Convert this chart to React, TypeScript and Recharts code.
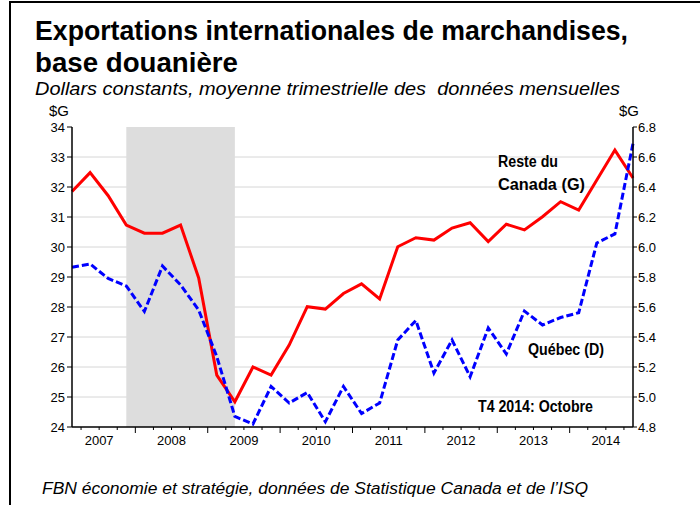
import React from 'react';
import { LineChart, Line, XAxis, YAxis, CartesianGrid, ReferenceArea } from 'recharts';

const quarters = [
  '2007T1', '2007T2', '2007T3', '2007T4',
  '2008T1', '2008T2', '2008T3', '2008T4',
  '2009T1', '2009T2', '2009T3', '2009T4',
  '2010T1', '2010T2', '2010T3', '2010T4',
  '2011T1', '2011T2', '2011T3', '2011T4',
  '2012T1', '2012T2', '2012T3', '2012T4',
  '2013T1', '2013T2', '2013T3', '2013T4',
  '2014T1', '2014T2', '2014T3', '2014T4',
];
const years = ['2007', '2008', '2009', '2010', '2011', '2012', '2013', '2014'];

// Reste du Canada, $G (left axis)
const resteDuCanada = [
  31.85, 32.48, 31.71, 30.73, 30.46, 30.46, 30.73, 28.97,
  25.73, 24.84, 26.0, 25.73, 26.73, 28.01, 27.93, 28.45,
  28.77, 28.27, 30.01, 30.31, 30.23, 30.63, 30.81, 30.18,
  30.76, 30.57, 31.01, 31.51, 31.23, 32.23, 33.23, 32.3,
];
// Québec, $G (right axis)
const quebec = [
  5.865, 5.887, 5.79, 5.74, 5.57, 5.873, 5.747, 5.58,
  5.27, 4.87, 4.82, 5.07, 4.96, 5.03, 4.835, 5.07,
  4.89, 4.96, 5.38, 5.51, 5.16, 5.38, 5.135, 5.46,
  5.287, 5.573, 5.48, 5.53, 5.562, 6.027, 6.087, 6.69,
];

const leftTicks = [24, 25, 26, 27, 28, 29, 30, 31, 32, 33, 34];
const leftGrid = [25, 26, 27, 28, 29, 30, 31, 32, 33];
const rightTicks = [4.8, 5.0, 5.2, 5.4, 5.6, 5.8, 6.0, 6.2, 6.4, 6.6, 6.8];
const recessionStart = 3;
const recessionEnd = 9;

const data = quarters.map((q, i) => ({ idx: i, q, rdc: resteDuCanada[i], qc: quebec[i] }));
const xTicks = quarters.slice(0, -1).map((_, i) => i + 0.5);

const FONT = 'Liberation Sans, Arial, Helvetica, sans-serif';

const XTick = (props: any) => {
  const { x, y, payload } = props;
  const v = payload.value as number;
  const isYearBoundary = (((v - 3.5) % 4) + 4) % 4 === 0;
  const li = (v - 1.5) / 4;
  const isLabel = Number.isInteger(li) && li >= 0 && li < years.length;
  return (
    <g>
      <line x1={x} x2={x} y1={y} y2={y + (isYearBoundary ? 6 : 3)} stroke="#000" strokeWidth={1} />
      {isLabel && (
        <text x={x} y={y + 18} textAnchor="middle" fontSize={13} fill="#000" fontFamily={FONT}>
          {years[li]}
        </text>
      )}
    </g>
  );
};

export default function App() {
  return (
    <div style={{ position: 'absolute', left: 0, top: 0, width: 700, height: 505, background: '#fff', overflow: 'hidden', fontFamily: FONT }}>
      <div style={{ position: 'absolute', left: 0, top: 0 }}>
        <LineChart width={700} height={505} data={data} margin={{ top: 127, right: 27, bottom: 48, left: 32 }}>
          <CartesianGrid yAxisId="left" vertical={false} horizontalValues={leftGrid} stroke="#d6d6d6" strokeWidth={1} />
          <ReferenceArea yAxisId="left" x1={recessionStart} x2={recessionEnd} y1={24} y2={34} fill="#dddddd" fillOpacity={1} stroke="none" ifOverflow="visible" />
          <XAxis
            dataKey="idx"
            type="number"
            domain={[0, 31]}
            ticks={xTicks}
            interval={0}
            tick={<XTick />}
            tickSize={0}
            tickMargin={0}
            tickLine={false}
            axisLine={{ stroke: '#000', strokeWidth: 1.5 }}
            height={30}
            allowDecimals
          />
          <YAxis
            yAxisId="left"
            domain={[24, 34]}
            ticks={leftTicks}
            interval={0}
            width={40}
            tickSize={5}
            tickMargin={2}
            axisLine={{ stroke: '#000', strokeWidth: 1.5 }}
            tickLine={{ stroke: '#000' }}
            tick={{ fill: '#000', fontSize: 13, fontFamily: FONT }}
          />
          <YAxis
            yAxisId="right"
            orientation="right"
            domain={[4.8, 6.8]}
            ticks={rightTicks}
            interval={0}
            width={40}
            tickSize={4}
            tickMargin={1}
            axisLine={{ stroke: '#000', strokeWidth: 1.5 }}
            tickLine={{ stroke: '#000' }}
            tick={{ fill: '#000', fontSize: 13, fontFamily: FONT }}
            tickFormatter={(v: number) => v.toFixed(1)}
          />
          <Line yAxisId="left" type="linear" dataKey="rdc" stroke="#ff0000" strokeWidth={3} dot={false} activeDot={false} isAnimationActive={false} />
          <Line yAxisId="right" type="linear" dataKey="qc" stroke="#0000ff" strokeWidth={3} strokeDasharray="7 3" dot={false} activeDot={false} isAnimationActive={false} />
        </LineChart>
      </div>
      <svg width={700} height={505} style={{ position: 'absolute', left: 0, top: 0, pointerEvents: 'none' }} fontFamily={FONT}>
        <line x1={10} y1={2} x2={700} y2={2} stroke="#000" strokeWidth={2} />
        <line x1={10} y1={1} x2={10} y2={505} stroke="#000" strokeWidth={2} />
        <text x={35} y={40} fontSize={27} fontWeight="bold" fill="#000" textLength={593} lengthAdjust="spacingAndGlyphs">
          Exportations internationales de marchandises,
        </text>
        <text x={35} y={72} fontSize={27} fontWeight="bold" fill="#000" textLength={203} lengthAdjust="spacingAndGlyphs">
          base douanière
        </text>
        <text x={35} y={95} fontSize={19} fontStyle="italic" fill="#000" textLength={585} lengthAdjust="spacingAndGlyphs" style={{ whiteSpace: 'pre' }}>
          {'Dollars constants, moyenne trimestrielle des  données mensuelles'}
        </text>
        <text x={49} y={116} fontSize={15} fill="#000">$G</text>
        <text x={619} y={116} fontSize={15} fill="#000">$G</text>
        <text x={498} y={167} fontSize={16} fontWeight="bold" fill="#000" textLength={60} lengthAdjust="spacingAndGlyphs">Reste du</text>
        <text x={498} y={190} fontSize={16} fontWeight="bold" fill="#000" textLength={87} lengthAdjust="spacingAndGlyphs">Canada (G)</text>
        <text x={528} y={355} fontSize={16} fontWeight="bold" fill="#000" textLength={76} lengthAdjust="spacingAndGlyphs">Québec (D)</text>
        <text x={478} y={412} fontSize={16} fontWeight="bold" fill="#000" textLength={115} lengthAdjust="spacingAndGlyphs">T4 2014: Octobre</text>
        <text x={42} y={494} fontSize={16} fontStyle="italic" fill="#000" textLength={546} lengthAdjust="spacingAndGlyphs">
          FBN économie et stratégie, données de Statistique Canada et de l’ISQ
        </text>
      </svg>
    </div>
  );
}
